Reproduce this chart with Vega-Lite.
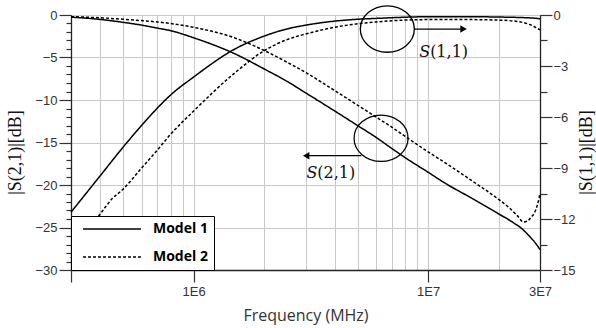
{
  "$schema": "https://vega.github.io/schema/vega-lite/v6.json",
  "width": 469,
  "height": 255,
  "autosize": {"type": "none"},
  "padding": {"left": 71, "top": 15, "right": 56, "bottom": 58},
  "background": "white",
  "config": {
    "view": {"stroke": "#3a3a3a", "strokeWidth": 1},
    "axis": {
      "labelFont": "Liberation Sans",
      "labelFontSize": 13,
      "labelColor": "#333333",
      "domainColor": "#222222",
      "domainWidth": 1.3,
      "tickColor": "#333333",
      "tickWidth": 1.2,
      "gridColor": "#c8c8c8",
      "gridWidth": 1
    },
    "legend": {
      "orient": "bottom-left",
      "offset": 0,
      "fillColor": "white",
      "strokeColor": "black",
      "padding": 6,
      "symbolType": "stroke",
      "symbolSize": 3364,
      "symbolStrokeWidth": 1.5,
      "symbolStrokeColor": "black",
      "clipHeight": 14,
      "rowPadding": 14,
      "symbolOffset": 5,
      "labelOffset": 11,
      "labelFont": "Open Sans",
      "labelFontSize": 14,
      "labelFontWeight": "bold",
      "labelColor": "black"
    }
  },
  "datasets": {
    "s21": [
      {"f": 300000, "v": -0.25, "model": "Model 1"},
      {"f": 400000, "v": -0.52, "model": "Model 1"},
      {"f": 500000, "v": -0.86, "model": "Model 1"},
      {"f": 600000, "v": -1.19, "model": "Model 1"},
      {"f": 700000, "v": -1.54, "model": "Model 1"},
      {"f": 800000, "v": -1.85, "model": "Model 1"},
      {"f": 1000000, "v": -2.68, "model": "Model 1"},
      {"f": 1500000, "v": -4.57, "model": "Model 1"},
      {"f": 2000000, "v": -6.35, "model": "Model 1"},
      {"f": 2500000, "v": -7.8, "model": "Model 1"},
      {"f": 3000000, "v": -9.15, "model": "Model 1"},
      {"f": 4000000, "v": -11.3, "model": "Model 1"},
      {"f": 5000000, "v": -13.0, "model": "Model 1"},
      {"f": 6000000, "v": -14.4, "model": "Model 1"},
      {"f": 7000000, "v": -15.7, "model": "Model 1"},
      {"f": 8000000, "v": -16.8, "model": "Model 1"},
      {"f": 10000000, "v": -18.5, "model": "Model 1"},
      {"f": 12000000, "v": -19.9, "model": "Model 1"},
      {"f": 15000000, "v": -21.4, "model": "Model 1"},
      {"f": 20000000, "v": -23.4, "model": "Model 1"},
      {"f": 23000000, "v": -24.4, "model": "Model 1"},
      {"f": 25000000, "v": -25.1, "model": "Model 1"},
      {"f": 27000000, "v": -26.0, "model": "Model 1"},
      {"f": 29000000, "v": -27.0, "model": "Model 1"},
      {"f": 30000000, "v": -27.6, "model": "Model 1"},
      {"f": 300000, "v": -0.2, "model": "Model 2"},
      {"f": 400000, "v": -0.33, "model": "Model 2"},
      {"f": 500000, "v": -0.5, "model": "Model 2"},
      {"f": 600000, "v": -0.66, "model": "Model 2"},
      {"f": 700000, "v": -0.82, "model": "Model 2"},
      {"f": 800000, "v": -1.0, "model": "Model 2"},
      {"f": 1000000, "v": -1.45, "model": "Model 2"},
      {"f": 1500000, "v": -2.7, "model": "Model 2"},
      {"f": 2000000, "v": -4.18, "model": "Model 2"},
      {"f": 2500000, "v": -5.55, "model": "Model 2"},
      {"f": 3000000, "v": -6.75, "model": "Model 2"},
      {"f": 4000000, "v": -8.9, "model": "Model 2"},
      {"f": 5000000, "v": -10.6, "model": "Model 2"},
      {"f": 6000000, "v": -12.0, "model": "Model 2"},
      {"f": 7000000, "v": -13.2, "model": "Model 2"},
      {"f": 8000000, "v": -14.3, "model": "Model 2"},
      {"f": 10000000, "v": -16.1, "model": "Model 2"},
      {"f": 12000000, "v": -17.5, "model": "Model 2"},
      {"f": 15000000, "v": -19.3, "model": "Model 2"},
      {"f": 20000000, "v": -21.7, "model": "Model 2"},
      {"f": 22000000, "v": -22.6, "model": "Model 2"},
      {"f": 24000000, "v": -23.6, "model": "Model 2"},
      {"f": 25500000, "v": -24.35, "model": "Model 2"},
      {"f": 26500000, "v": -24.25, "model": "Model 2"},
      {"f": 27500000, "v": -23.8, "model": "Model 2"},
      {"f": 28500000, "v": -23.2, "model": "Model 2"},
      {"f": 29200000, "v": -22.4, "model": "Model 2"},
      {"f": 29700000, "v": -21.6, "model": "Model 2"},
      {"f": 30000000, "v": -21.0, "model": "Model 2"}
    ],
    "s11": [
      {"f": 300000, "v": -11.6, "model": "Model 1"},
      {"f": 400000, "v": -9.45, "model": "Model 1"},
      {"f": 500000, "v": -7.78, "model": "Model 1"},
      {"f": 600000, "v": -6.5, "model": "Model 1"},
      {"f": 700000, "v": -5.48, "model": "Model 1"},
      {"f": 800000, "v": -4.69, "model": "Model 1"},
      {"f": 1000000, "v": -3.65, "model": "Model 1"},
      {"f": 1500000, "v": -2.0, "model": "Model 1"},
      {"f": 2000000, "v": -1.24, "model": "Model 1"},
      {"f": 2500000, "v": -0.82, "model": "Model 1"},
      {"f": 3000000, "v": -0.6, "model": "Model 1"},
      {"f": 4000000, "v": -0.36, "model": "Model 1"},
      {"f": 5000000, "v": -0.25, "model": "Model 1"},
      {"f": 6000000, "v": -0.2, "model": "Model 1"},
      {"f": 7000000, "v": -0.16, "model": "Model 1"},
      {"f": 8000000, "v": -0.13, "model": "Model 1"},
      {"f": 10000000, "v": -0.1, "model": "Model 1"},
      {"f": 15000000, "v": -0.1, "model": "Model 1"},
      {"f": 20000000, "v": -0.12, "model": "Model 1"},
      {"f": 25000000, "v": -0.15, "model": "Model 1"},
      {"f": 28000000, "v": -0.18, "model": "Model 1"},
      {"f": 30000000, "v": -0.22, "model": "Model 1"},
      {"f": 300000, "v": -14.3, "model": "Model 2"},
      {"f": 400000, "v": -11.7, "model": "Model 2"},
      {"f": 450000, "v": -10.8, "model": "Model 2"},
      {"f": 500000, "v": -10.25, "model": "Model 2"},
      {"f": 600000, "v": -9.0, "model": "Model 2"},
      {"f": 700000, "v": -7.95, "model": "Model 2"},
      {"f": 800000, "v": -7.0, "model": "Model 2"},
      {"f": 1000000, "v": -5.65, "model": "Model 2"},
      {"f": 1500000, "v": -3.4, "model": "Model 2"},
      {"f": 2000000, "v": -2.1, "model": "Model 2"},
      {"f": 2500000, "v": -1.45, "model": "Model 2"},
      {"f": 3000000, "v": -1.12, "model": "Model 2"},
      {"f": 4000000, "v": -0.72, "model": "Model 2"},
      {"f": 5000000, "v": -0.52, "model": "Model 2"},
      {"f": 6000000, "v": -0.41, "model": "Model 2"},
      {"f": 7000000, "v": -0.34, "model": "Model 2"},
      {"f": 8000000, "v": -0.3, "model": "Model 2"},
      {"f": 10000000, "v": -0.27, "model": "Model 2"},
      {"f": 15000000, "v": -0.27, "model": "Model 2"},
      {"f": 20000000, "v": -0.3, "model": "Model 2"},
      {"f": 23000000, "v": -0.35, "model": "Model 2"},
      {"f": 25000000, "v": -0.42, "model": "Model 2"},
      {"f": 27000000, "v": -0.55, "model": "Model 2"},
      {"f": 28000000, "v": -0.64, "model": "Model 2"},
      {"f": 29000000, "v": -0.76, "model": "Model 2"},
      {"f": 30000000, "v": -0.88, "model": "Model 2"}
    ],
    "ellipses": [
      {"f": 6700000, "v": -1.65},
      {"f": 6300000, "v": -14.5}
    ],
    "arrows": [
      {"f": 8730000, "f2": 14160000, "v": -1.65, "dir": "right"},
      {"f": 5190000, "f2": 3020000, "v": -16.55, "dir": "left"}
    ],
    "labels": [
      {"f": 10200000, "v": -4.35, "s": "S", "n": "(1,1)"},
      {"f": 3370000, "v": -18.6, "s": "S", "n": "(2,1)"}
    ]
  },
  "encoding": {
    "x": {
      "field": "f",
      "type": "quantitative",
      "scale": {"type": "log", "domain": [300000, 30000000], "nice": false},
      "axis": {
        "title": "Frequency (MHz)",
        "titleFont": "Open Sans",
        "titleFontSize": 16,
        "titleFontWeight": "normal",
        "titleColor": "#333333",
        "titlePadding": 9,
        "values": [300000, 400000, 500000, 600000, 700000, 800000, 900000, 1000000, 2000000, 3000000, 4000000, 5000000, 6000000, 7000000, 8000000, 9000000, 10000000, 20000000, 30000000],
        "labelExpr": "datum.value == 1000000 ? '1E6' : datum.value == 10000000 ? '1E7' : datum.value == 30000000 ? '3E7' : ''",
        "labelOverlap": false,
        "labelBound": false,
        "labelFlush": false,
        "labelPadding": 3,
        "grid": true,
        "tickSize": {"condition": {"test": "datum.value == 300000 || datum.value == 1000000 || datum.value == 10000000 || datum.value == 30000000", "value": 12}, "value": 0}
      }
    }
  },
  "layer": [
    {
      "encoding": {
        "y": {
          "field": "v",
          "type": "quantitative",
          "scale": {"domain": [-30, 0], "nice": false, "zero": false},
          "axis": {
            "orient": "left",
            "title": "|S(2,1)|[dB]",
            "titleFont": "Liberation Serif",
            "titleFontSize": 18,
            "titleFontWeight": "normal",
            "titleColor": "#111111",
            "titlePadding": 10,
            "titleY": 137,
            "values": [0, -1, -2, -3, -4, -5, -6, -7, -8, -9, -10, -11, -12, -13, -14, -15, -16, -17, -18, -19, -20, -21, -22, -23, -24, -25, -26, -27, -28, -29, -30],
            "labelExpr": "datum.value % 5 === 0 ? datum.label : ''",
            "labelOverlap": false,
            "labelBound": false,
            "labelFlush": false,
            "labelPadding": 2,
            "grid": true,
            "gridOpacity": {"condition": {"test": "datum.value % 5 === 0", "value": 1}, "value": 0},
            "tickSize": {"condition": {"test": "datum.value % 5 === 0", "value": 12}, "value": 5}
          }
        }
      },
      "layer": [
        {
          "data": {"name": "s21"},
          "mark": {"type": "line", "color": "black", "strokeWidth": 1.5, "interpolate": "monotone"},
          "encoding": {
            "strokeDash": {
              "field": "model",
              "type": "nominal",
              "scale": {"domain": ["Model 1", "Model 2"], "range": [[1, 0], [3, 2]]},
              "legend": {"title": null, "labelExpr": "datum.label + '    '"}
            }
          }
        },
        {
          "data": {"name": "ellipses"},
          "mark": {"type": "point", "shape": "M-1,0A1,0.86,0,1,1,1,0A1,0.86,0,1,1,-1,0Z", "size": 2916, "filled": false, "stroke": "black", "strokeWidth": 1.3, "opacity": 1}
        },
        {
          "data": {"name": "arrows"},
          "mark": {"type": "rule", "color": "black", "strokeWidth": 1.3},
          "encoding": {"x2": {"field": "f2"}}
        },
        {
          "data": {"name": "arrows"},
          "mark": {"type": "point", "filled": true, "color": "black", "size": 55, "opacity": 1},
          "encoding": {
            "x": {"field": "f2", "type": "quantitative"},
            "shape": {"field": "dir", "type": "nominal", "scale": {"domain": ["right", "left"], "range": ["triangle-right", "triangle-left"]}, "legend": null}
          }
        },
        {
          "data": {"name": "labels"},
          "mark": {"type": "text", "align": "right", "baseline": "middle", "font": "DejaVu Serif", "fontSize": 16, "fontStyle": "italic", "color": "#111111"},
          "encoding": {"text": {"field": "s"}}
        },
        {
          "data": {"name": "labels"},
          "mark": {"type": "text", "align": "left", "baseline": "middle", "font": "DejaVu Serif", "fontSize": 16, "color": "#111111"},
          "encoding": {"text": {"field": "n"}}
        }
      ]
    },
    {
      "data": {"name": "s11"},
      "mark": {"type": "line", "color": "black", "strokeWidth": 1.5, "interpolate": "monotone"},
      "encoding": {
        "y": {
          "field": "v",
          "type": "quantitative",
          "scale": {"domain": [-15, 0], "nice": false, "zero": false},
          "axis": {
            "orient": "right",
            "title": "|S(1,1)|[dB]",
            "titleFont": "Liberation Serif",
            "titleFontSize": 18,
            "titleFontWeight": "normal",
            "titleColor": "#111111",
            "titleAngle": 270,
            "titleBaseline": "top",
            "titlePadding": 2,
            "titleY": 137,
            "values": [0, -1.5, -3, -4.5, -6, -7.5, -9, -10.5, -12, -13.5, -15],
            "labelExpr": "datum.value % 3 === 0 ? datum.label : ''",
            "labelOverlap": false,
            "labelBound": false,
            "labelFlush": false,
            "labelPadding": 1,
            "grid": false,
            "tickSize": {"condition": {"test": "datum.value % 3 === 0", "value": 12}, "value": 7}
          }
        },
        "strokeDash": {
          "field": "model",
          "type": "nominal",
          "scale": {"domain": ["Model 1", "Model 2"], "range": [[1, 0], [3, 2]]},
          "legend": {"title": null, "labelExpr": "datum.label + '    '"}
        }
      }
    }
  ],
  "resolve": {"scale": {"y": "independent"}}
}
